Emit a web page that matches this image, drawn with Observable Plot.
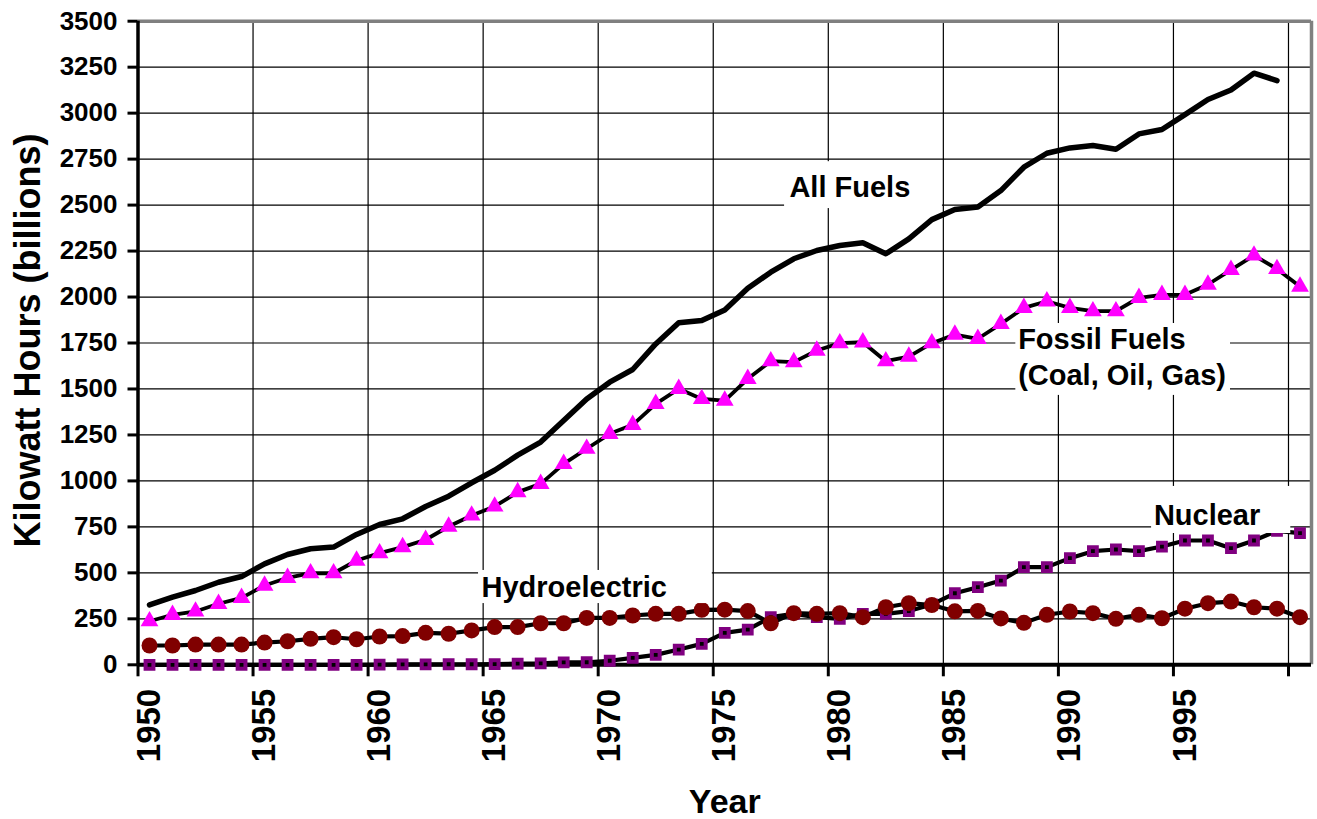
<!DOCTYPE html>
<html><head><meta charset="utf-8">
<script src="https://cdn.jsdelivr.net/npm/d3@7"></script>
<script src="https://cdn.jsdelivr.net/npm/@observablehq/plot@0.6"></script>
<style>
html,body{margin:0;padding:0;background:#fff;}
#chart{width:1317px;height:819px;}
</style></head><body><div id="chart"></div>
<script>
// ---- data (billion kWh) ----
const years = d3.range(1950, 2001);
const allFuels = [326,368,404,449,480,549,600,631,640,709,763,794,861,917,990,1058,1140,1211,1328,1446,
  1537,1606,1745,1860,1872,1930,2048,2135,2208,2253,2280,2295,2235,2316,2421,2476,2490,2579,2706,2782,
  2811,2824,2804,2887,2911,2992,3074,3126,3217,3177,null];
const fossilFuels = [237,272,290,332,364,431,473,498,498,567,607,640,680,752,812,861,939,984,1093,1175,
  1256,1305,1419,1501,1446,1437,1555,1651,1646,1709,1749,1754,1651,1676,1749,1796,1773,1854,1941,1977,
  1941,1923,1923,1996,2012,2012,2068,2148,2226,2153,2057];
const hydroelectric = [105,105,110,110,110,121,128,141,150,139,154,156,174,169,187,205,205,226,226,255,
  255,268,277,277,299,300,292,226,281,277,281,259,313,335,325,291,293,252,228,272,
  290,281,250,272,253,305,335,344,313,305,259];
const nuclear = [0,0,0,0,0,0,0,0,0,0,1,2,2,3,3,4,6,8,13,14,
  22,38,54,83,114,174,191,259,277,259,250,277,277,292,328,389,422,458,531,531,
  580,618,627,618,643,676,676,634,676,728,716];
const yTicks = d3.range(0, 3501, 250);
const xTicks = d3.range(1950, 2001, 5);
const xTickLabels = d3.range(1950, 1996, 5);
const seriesLabels = ["All Fuels", "Fossil Fuels\n(Coal, Oil, Gas)", "Hydroelectric", "Nuclear"];

const rows = years.map((year, i) => ({year, all: allFuels[i], fossil: fossilFuels[i], hydro: hydroelectric[i], nuclear: nuclear[i]}));
const cx = d => d.year + 0.5;

// annotation placement (data coordinates)
const labelPos = [
  {text: seriesLabels[0], x: 1978.31, y: 2543, x1: 1978.1, x2: 1984.96, y1: 2481, y2: 2736},
  {text: seriesLabels[1], x: 1988.25, y: 1519, x1: 1988.15, x2: 1997.48, y1: 1465, y2: 1856},
  {text: seriesLabels[2], x: 1964.93, y: 367.6, x1: 1964.8, x2: 1974.96, y1: 333, y2: 513},
  {text: seriesLabels[3], x: 1994.15, y: 758, x1: 1994.05, x2: 2000.1, y1: 714, y2: 970}
];

const plot = Plot.plot({
  width: 1317, height: 819,
  marginLeft: 137.5, marginRight: 6, marginTop: 20.7, marginBottom: 154.7,
  style: {fontFamily: "'Liberation Sans', Arial, sans-serif", fontWeight: "bold", background: "white", color: "black"},
  x: {domain: [1950, 2001]},
  y: {domain: [0, 3500]},
  marks: [
    Plot.ruleY(yTicks.filter(v => v > 0 && v < 3500), {stroke: "black", strokeWidth: 1.2}),
    Plot.ruleX(xTicks.filter(v => v > 1950), {stroke: "black", strokeWidth: 1.2}),
    Plot.ruleY([3500], {stroke: "#808080", strokeWidth: 3.5}),
    Plot.ruleX([2001], {stroke: "#808080", strokeWidth: 3.5}),
    Plot.ruleX([1950], {stroke: "black", strokeWidth: 3.5}),
    Plot.ruleY([0], {stroke: "black", strokeWidth: 4}),
    // All fuels
    Plot.line(rows, {x: cx, y: "all", stroke: "black", strokeWidth: 5.5, strokeLinejoin: "round"}),
    // Fossil
    Plot.line(rows, {x: cx, y: "fossil", stroke: "black", strokeWidth: 3.8, strokeLinejoin: "round"}),
    Plot.dot(rows, {x: cx, y: "fossil", symbol: "triangle", r: 6.6, fill: "#FF00FF"}),
    // Nuclear
    Plot.line(rows, {x: cx, y: "nuclear", stroke: "black", strokeWidth: 4.2, strokeLinejoin: "round"}),
    Plot.dot(rows, {x: cx, y: "nuclear", symbol: "square", r: 4.4, fill: "black", stroke: "#800080", strokeWidth: 4}),
    // Hydro
    Plot.line(rows, {x: cx, y: "hydro", stroke: "black", strokeWidth: 4.2, strokeLinejoin: "round"}),
    Plot.dot(rows, {x: cx, y: "hydro", r: 8, fill: "#800000"}),
    // labels
    Plot.rect(labelPos, {x1: "x1", x2: "x2", y1: "y1", y2: "y2", fill: "white"}),
    Plot.text(labelPos, {x: "x", y: "y", text: "text", textAnchor: "start", lineAnchor: "bottom", fontSize: 29, lineHeight: 1.27, fill: "black"}),
    // axes
    Plot.axisY({ticks: yTicks, tickSize: 10, tickPadding: 10.5, strokeWidth: 3, fontSize: 26, label: null, tickFormat: d => String(d)}),
    Plot.axisX({ticks: xTicks, tickSize: 12, strokeWidth: 3, tickFormat: () => "", label: null}),
    Plot.text(xTickLabels, {x: d => d + 0.5, frameAnchor: "bottom", text: d => String(d), rotate: -90, textAnchor: "end", lineAnchor: "middle", dy: 24, fontSize: 33, fill: "black"}),
    Plot.text(["Kilowatt Hours (billions)"], {frameAnchor: "left", text: d => d, rotate: -90, textAnchor: "middle", lineAnchor: "bottom", dx: -98, dy: -2.5, fontSize: 36, fill: "black"}),
    Plot.text(["Year"], {frameAnchor: "bottom", text: d => d, textAnchor: "middle", lineAnchor: "bottom", dy: 148.5, fontSize: 34, fill: "black"})
  ]
});
document.getElementById("chart").append(plot);
</script>
</body></html>
